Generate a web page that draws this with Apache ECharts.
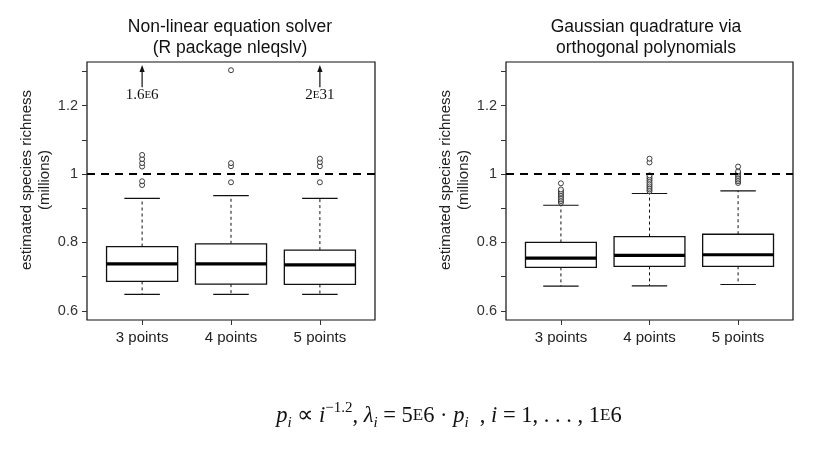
<!DOCTYPE html>
<html>
<head>
<meta charset="utf-8">
<script src="https://cdn.jsdelivr.net/npm/echarts@6/dist/echarts.min.js"></script>
<style>
html,body{margin:0;padding:0;background:#fff;}
#chart{width:817px;height:450px;}
</style>
</head>
<body>
<div id="chart"></div>
<script>
// ---------- data ----------
const categories = ['3 points', '4 points', '5 points'];
const catPos = [1, 2, 3];
const yTickValues = [0.6, 0.7, 0.8, 0.9, 1.0, 1.1, 1.2, 1.3];
const yLabelValues = [0.6, 0.8, 1.0, 1.2];
const refLine = 1;

// Panel 1: Non-linear equation solver
const nlLow  = [0.648, 0.648, 0.648];
const nlQ1   = [0.686, 0.678, 0.677];
const nlMed  = [0.7375, 0.7375, 0.7345];
const nlQ3   = [0.788, 0.796, 0.7775];
const nlHigh = [0.929, 0.937, 0.929];
const nlOut3 = [0.968, 0.979, 1.022, 1.032, 1.044, 1.056];
const nlOut4 = [0.976, 1.023, 1.032, 1.304];
const nlOut5 = [0.976, 1.023, 1.035, 1.045];
const nlArrowCats = [1, 3];
const nlArrowLabels = ['1.6E6', '2E31'];
const arrowBase = 1.254, arrowTip = 1.319, arrowLabelY = 1.231;

// Panel 2: Gaussian quadrature
const gqLow  = [0.672, 0.673, 0.677];
const gqQ1   = [0.727, 0.730, 0.730];
const gqMed  = [0.754, 0.762, 0.764];
const gqQ3   = [0.800, 0.817, 0.824];
const gqHigh = [0.909, 0.943, 0.951];
const gqOut3 = [0.916, 0.921, 0.926, 0.931, 0.936, 0.941, 0.945, 0.950, 0.955, 0.973];
const gqOut4 = [0.950, 0.955, 0.960, 0.965, 0.970, 0.975, 0.981, 0.986, 0.991, 0.996, 1.034, 1.045];
const gqOut5 = [0.974, 0.979, 0.984, 0.989, 0.994, 0.999, 1.004, 1.008, 1.022];

const titles = ['Non-linear equation solver\n(R package nleqslv)', 'Gaussian quadrature via\northogonal polynomials'];
const yName = 'estimated species richness\n(millions)';

// ---------- helpers ----------
const Y_MIN = 0.573, Y_MAX = 1.328, X_MIN = 0.38, X_MAX = 3.62;
const BOX_HALF = 0.4, CAP_HALF = 0.2;
const SANS = '"Liberation Sans", Arial, Helvetica, sans-serif';
const SERIF = '"Liberation Serif", "Times New Roman", serif';

function boxData(lo, q1, md, q3, hi) {
  return catPos.map((c, i) => [c, lo[i], q1[i], md[i], q3[i], hi[i]]);
}
function outData(lists) {
  const d = [];
  lists.forEach((arr, i) => arr.forEach(v => d.push([catPos[i], v])));
  return d;
}
function renderBox(params, api) {
  const x = api.value(0);
  const lo = api.value(1), q1 = api.value(2), md = api.value(3), q3 = api.value(4), hi = api.value(5);
  const c = (xx, yy) => api.coord([xx, yy]);
  const tl = c(x - BOX_HALF, q3), br = c(x + BOX_HALF, q1);
  const mL = c(x - BOX_HALF, md), mR = c(x + BOX_HALF, md);
  const wTop = c(x, hi), wQ3 = c(x, q3), wQ1 = c(x, q1), wLo = c(x, lo);
  const capHL = c(x - CAP_HALF, hi), capHR = c(x + CAP_HALF, hi);
  const capLL = c(x - CAP_HALF, lo), capLR = c(x + CAP_HALF, lo);
  const dash = {stroke: '#111', lineWidth: 1, lineDash: [3, 3]};
  const solid = {stroke: '#111', lineWidth: 1.1};
  return {
    type: 'group',
    children: [
      {type: 'line', shape: {x1: wQ3[0], y1: wQ3[1], x2: wTop[0], y2: wTop[1]}, style: dash},
      {type: 'line', shape: {x1: wQ1[0], y1: wQ1[1], x2: wLo[0], y2: wLo[1]}, style: dash},
      {type: 'line', shape: {x1: capHL[0], y1: capHL[1], x2: capHR[0], y2: capHR[1]}, style: solid},
      {type: 'line', shape: {x1: capLL[0], y1: capLL[1], x2: capLR[0], y2: capLR[1]}, style: solid},
      {type: 'rect', shape: {x: tl[0], y: tl[1], width: br[0] - tl[0], height: br[1] - tl[1]},
        style: {fill: '#fff', stroke: '#111', lineWidth: 1.3}},
      {type: 'line', shape: {x1: mL[0], y1: mL[1], x2: mR[0], y2: mR[1]}, style: {stroke: '#000', lineWidth: 3.2}}
    ]
  };
}
function renderArrow(params, api) {
  const x = api.value(0);
  const b = api.coord([x, api.value(1)]);
  const t = api.coord([x, api.value(2)]);
  const l = api.coord([x, api.value(3)]);
  const label = nlArrowLabels[api.value(4)];
  const parts = label.split('E');
  return {
    type: 'group',
    children: [
      {type: 'line', shape: {x1: b[0], y1: b[1], x2: t[0], y2: t[1] + 4}, style: {stroke: '#111', lineWidth: 1.2}},
      {type: 'polygon', shape: {points: [[t[0], t[1]], [t[0] - 2.6, t[1] + 7], [t[0] + 2.6, t[1] + 7]]},
        style: {fill: '#111', stroke: null}},
      {type: 'text', x: l[0], y: l[1], style: {
        text: '{n|' + parts[0] + '}{s|E}{n|' + parts[1] + '}',
        align: 'center', verticalAlign: 'middle',
        rich: {
          n: {fontFamily: SERIF, fontSize: 15, fill: '#111'},
          s: {fontFamily: SERIF, fontSize: 11, fill: '#111'}
        }
      }}
    ]
  };
}
function yAxisCfg(gi) {
  return {
    type: 'value', gridIndex: gi, min: Y_MIN, max: Y_MAX,
    axisLine: {show: false},
    axisTick: {show: true, length: 5, customValues: yTickValues, lineStyle: {color: '#333', width: 1}},
    axisLabel: {show: true, customValues: yLabelValues, margin: 9, fontSize: 14.5, fontFamily: SANS, color: '#333',
      formatter: v => String(+(+v).toFixed(2))},
    splitLine: {show: false}
  };
}
function xAxisCfg(gi) {
  return {
    type: 'value', gridIndex: gi, min: X_MIN, max: X_MAX,
    axisLine: {show: false},
    axisTick: {show: true, length: 5, customValues: catPos, lineStyle: {color: '#333', width: 1}},
    axisLabel: {show: true, customValues: catPos, margin: 10, fontSize: 15, fontFamily: SANS, color: '#222',
      formatter: v => categories[Math.round(v) - 1]},
    splitLine: {show: false}
  };
}
const refMarkLine = {
  silent: true, symbol: 'none', animation: false,
  label: {show: false},
  lineStyle: {color: '#000', width: 2.2, type: [8, 6]},
  data: [{yAxis: refLine}]
};
const scatterStyle = {color: '#fff', borderColor: '#111', borderWidth: 1};
const titleStyle = {fontFamily: SANS, fontSize: 17.5, fontWeight: 'normal', color: '#111', lineHeight: 21};
const yNameStyle = {align: 'center', verticalAlign: 'middle', fontFamily: SANS, fontSize: 15, lineHeight: 18, fill: '#222'};

const chart = echarts.init(document.getElementById('chart'), null, {renderer: 'canvas'});
chart.setOption({
  animation: false,
  backgroundColor: '#fff',
  title: [
    {text: titles[0], left: 230, top: 17, padding: 0, textAlign: 'center', textStyle: titleStyle},
    {text: titles[1], left: 646, top: 17, padding: 0, textAlign: 'center', textStyle: titleStyle}
  ],
  grid: [
    {left: 87, top: 62, width: 288, height: 258, show: true, borderColor: '#111', borderWidth: 1.2, backgroundColor: 'transparent'},
    {left: 506, top: 62, width: 287, height: 258, show: true, borderColor: '#111', borderWidth: 1.2, backgroundColor: 'transparent'}
  ],
  xAxis: [xAxisCfg(0), xAxisCfg(1)],
  yAxis: [yAxisCfg(0), yAxisCfg(1)],
  graphic: [
    {type: 'text', x: 36, y: 180, rotation: Math.PI / 2, style: Object.assign({text: yName}, yNameStyle)},
    {type: 'text', x: 455, y: 180, rotation: Math.PI / 2, style: Object.assign({text: yName}, yNameStyle)},
    {type: 'text', x: 449, y: 416, style: {
      text: '{it|p}{sub|i}{rm| ∝ }{it|i}{sup|−1.2}{rm|, }{it|λ}{sub|i}{rm| = 5}{sc|E}{rm|6 · }{it|p}{sub|i}{rm|  , }{it|i}{rm| = 1, . . . , 1}{sc|E}{rm|6}',
      align: 'center', verticalAlign: 'middle',
      rich: {
        rm: {fontFamily: SERIF, fontSize: 22.5, lineHeight: 30, fill: '#111'},
        it: {fontFamily: SERIF, fontStyle: 'italic', fontSize: 22.5, lineHeight: 30, fill: '#111'},
        sc: {fontFamily: SERIF, fontSize: 17, lineHeight: 30, fill: '#111'},
        sup: {fontFamily: SERIF, fontSize: 15, lineHeight: 12, verticalAlign: 'top', fill: '#111'},
        sub: {fontFamily: SERIF, fontStyle: 'italic', fontSize: 15, lineHeight: 18, verticalAlign: 'bottom', fill: '#111'}
      }
    }}
  ],
  series: [
    {type: 'custom', name: 'nl-box', xAxisIndex: 0, yAxisIndex: 0, renderItem: renderBox,
      encode: {x: 0, y: [1, 2, 3, 4, 5]}, data: boxData(nlLow, nlQ1, nlMed, nlQ3, nlHigh), z: 2},
    {type: 'scatter', name: 'nl-out', xAxisIndex: 0, yAxisIndex: 0, symbol: 'circle', symbolSize: 5,
      itemStyle: scatterStyle, data: outData([nlOut3, nlOut4, nlOut5]), markLine: refMarkLine, z: 3},
    {type: 'custom', name: 'nl-arrow', xAxisIndex: 0, yAxisIndex: 0, renderItem: renderArrow,
      encode: {x: 0, y: [1, 2]}, data: nlArrowCats.map((c, i) => [c, arrowBase, arrowTip, arrowLabelY, i]), z: 3},
    {type: 'custom', name: 'gq-box', xAxisIndex: 1, yAxisIndex: 1, renderItem: renderBox,
      encode: {x: 0, y: [1, 2, 3, 4, 5]}, data: boxData(gqLow, gqQ1, gqMed, gqQ3, gqHigh), z: 2},
    {type: 'scatter', name: 'gq-out', xAxisIndex: 1, yAxisIndex: 1, symbol: 'circle', symbolSize: 5,
      itemStyle: scatterStyle, data: outData([gqOut3, gqOut4, gqOut5]), markLine: refMarkLine, z: 3}
  ]
});
</script>
</body>
</html>
